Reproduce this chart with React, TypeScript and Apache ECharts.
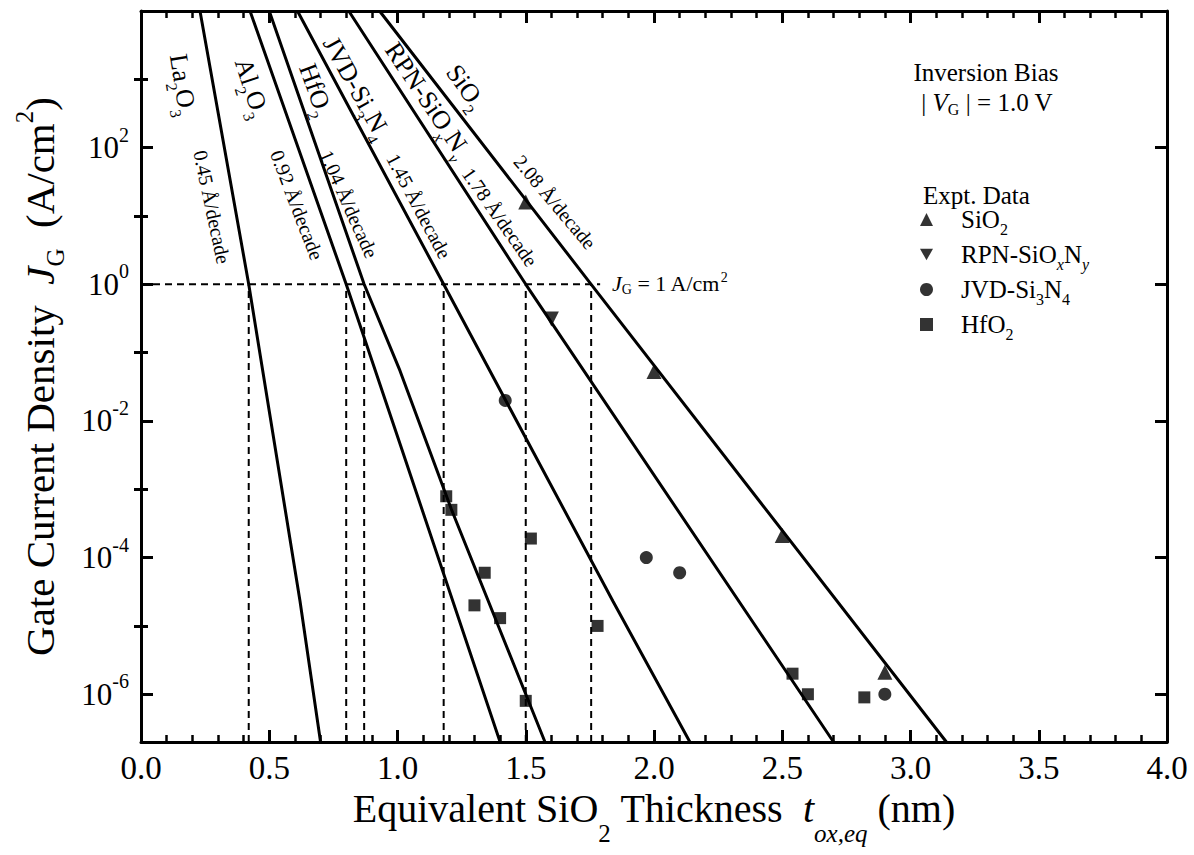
import { useEffect, useRef } from "react";
import * as echarts from "echarts";

const FONT = "'Liberation Serif', 'Times New Roman', Times, serif";

// ---------- axis ticks ----------
const xMin = 0;
const xMax = 4;
const xStep = 0.5;
const yMin = 2e-7;
const yMax = 1e4;
const yMajorTicks = [1e-6, 1e-4, 1e-2, 1, 1e2, 1e4];
const yLabelValues = [1e-6, 1e-4, 1e-2, 1, 1e2];
const yMinorTicks = [1e-5, 1e-3, 1e-1, 1e1, 1e3];

// ---------- model curves ----------
const la2o3Fit = [[0.23, 1e4], [0.42, 1], [0.62, 2.3e-5], [0.70, 2e-7]];
const al2o3Fit = [[0.425, 1e4], [0.80, 1], [1.01, 4.6e-3], [1.40, 2e-7]];
const hfo2Fit = [[0.50, 1e4], [0.87, 1], [1.01, 5.4e-2], [1.21, 5.1e-4], [1.575, 2e-7]];
const jvdFit = [[0.61, 1e4], [1.18, 1], [1.84, 2.3e-5], [2.14, 2e-7]];
const rpnFit = [[0.81, 1e4], [1.50, 1], [2.70, 2e-7]];
const sio2Fit = [[0.93, 1e4], [1.755, 1], [3.14, 2e-7]];

// x positions where each curve crosses J_G = 1 A/cm2 (dashed drop lines)
const jg1Crossings = [0.42, 0.80, 0.87, 1.18, 1.50, 1.755];
const jg1LineEnd = 1.79;

// ---------- experimental data ----------
const sio2Data = [[1.5, 16], [2.0, 0.053], [2.5, 2.1e-4], [2.9, 2.1e-6]];
const rpnData = [[1.6, 0.31]];
const jvdData = [[1.42, 0.02], [1.97, 1e-4], [2.10, 6e-5], [2.90, 1e-6]];
const hfo2Data = [
  [1.19, 7.9e-4], [1.21, 5e-4], [1.30, 2e-5], [1.34, 6e-5], [1.40, 1.3e-5],
  [1.50, 8e-7], [1.52, 1.9e-4], [1.78, 1e-5], [2.54, 2e-6], [2.60, 1e-6], [2.82, 9e-7],
];

const legendNames = ["SiO2", "RPN-SiOxNy", "JVD-Si3N4", "HfO2"];
const legendRich: Record<string, string> = {
  "SiO2": "{g| }{n|SiO}{s|2}",
  "RPN-SiOxNy": "{g| }{n|RPN-SiO}{is|x}{n|N}{is|y}",
  "JVD-Si3N4": "{g| }{n|JVD-Si}{s|3}{n|N}{s|4}",
  "HfO2": "{g| }{n|HfO}{s|2}",
};

function rich(size: number, lh: number) {
  const sub = Math.round(size * 0.62);
  const base = { fontFamily: FONT, fill: "#000", color: "#000" };
  return {
    n: { ...base, fontSize: size, lineHeight: lh, verticalAlign: "middle" },
    i: { ...base, fontSize: size, fontStyle: "italic", lineHeight: lh, verticalAlign: "middle" },
    s: { ...base, fontSize: sub, lineHeight: sub, verticalAlign: "bottom" },
    is: { ...base, fontSize: sub, fontStyle: "italic", lineHeight: sub, verticalAlign: "bottom" },
    p: { ...base, fontSize: sub, lineHeight: sub, verticalAlign: "top" },
    g: { ...base, fontSize: size, width: 23, lineHeight: lh },
  };
}

const deg = Math.PI / 180;
function annot(text: string, x: number, y: number, rotDeg: number, size: number, align = "center", lhf = 1.5) {
  return {
    type: "text",
    x,
    y,
    rotation: -rotDeg * deg,
    z: 100,
    style: {
      text,
      rich: rich(size, Math.round(size * lhf)),
      fill: "#000",
      fontSize: size,
      fontFamily: FONT,
      align,
      verticalAlign: "middle",
      textAlign: align,
      textVerticalAlign: "middle",
    },
  };
}

export default function App() {
  const ref = useRef<HTMLDivElement>(null);
  useEffect(() => {
    document.body.style.margin = "0";
    const chart = echarts.init(ref.current!, null, { renderer: "svg" });
    const axisLine = { show: true, onZero: false, lineStyle: { color: "#000", width: 3 } };
    const xCommon = {
      type: "value",
      min: xMin,
      max: xMax,
      interval: xStep,
      axisLine,
      axisTick: { show: true, inside: true, length: 12, lineStyle: { color: "#000", width: 3 } },
      minorTick: { show: true, splitNumber: 5, length: 7, lineStyle: { color: "#000", width: 2.5 } },
      splitLine: { show: false },
    };
    const yCommon = {
      type: "log",
      logBase: 10,
      min: yMin,
      max: yMax,
      splitLine: { show: false },
    };
    const lineSeries = (name: string, data: number[][]) => ({
      name,
      type: "line",
      data,
      symbol: "none",
      silent: true,
      z: 3,
      lineStyle: { color: "#000", width: 3 },
    });
    const dashed = (name: string, data: number[][]) => ({
      name,
      type: "line",
      data,
      symbol: "none",
      silent: true,
      z: 2,
      lineStyle: { color: "#000", width: 2, type: [7, 5] },
    });
    const scatter = (name: string, data: number[][], symbol: string, size: number) => ({
      name,
      type: "scatter",
      data,
      symbol,
      symbolSize: size,
      z: 5,
      itemStyle: { color: "#000" },
    });
    const legendRowTops = [207, 242, 277, 312];
    const legends = legendNames.map((name, i) => ({
      data: [name],
      orient: "vertical",
      left: 920,
      top: legendRowTops[i],
      itemWidth: 13,
      itemHeight: 13,
      padding: 0,
      selectedMode: false,
      formatter: (n: string) => legendRich[n] || n,
      textStyle: { fontFamily: FONT, fontSize: 25, color: "#000", rich: rich(25, 36) },
    }));

    chart.setOption({
      animation: false,
      backgroundColor: "#fff",
      grid: { left: 141, right: 27, top: 11, bottom: 113, containLabel: false, outerBoundsMode: "none" },
      legend: legends,
      xAxis: [
        {
          ...xCommon,
          position: "bottom",
          axisLabel: {
            formatter: (v: number) => v.toFixed(1),
            fontFamily: FONT,
            fontSize: 33,
            color: "#000",
            margin: 9,
          },
          name: "{n|Equivalent SiO}{s|2}{n| Thickness  }{i|t}{is|ox,eq}{n| (nm)}",
          nameLocation: "middle",
          nameGap: 26,
          nameTextStyle: { rich: rich(40, 74) },
        },
        { ...xCommon, position: "top", axisLabel: { show: false } },
      ],
      yAxis: [
        {
          ...yCommon,
          position: "left",
          axisLine,
          axisTick: { show: true, inside: true, length: 12, customValues: yMajorTicks, lineStyle: { color: "#000", width: 3 } },
          axisLabel: {
            customValues: yLabelValues,
            margin: 12,
            formatter: (v: number) => `{b|10}{p|${Math.round(Math.log10(v))}}`,
            rich: {
              b: { fontFamily: FONT, fontSize: 31, color: "#000", lineHeight: 46, verticalAlign: "middle" },
              p: { fontFamily: FONT, fontSize: 20, color: "#000", lineHeight: 20, verticalAlign: "top" },
            },
          },
          name: "{n|Gate Current Density  }{i|J}{s|G}{n|  (A/cm}{p|2}{n|)}",
          nameLocation: "middle",
          nameGap: 73,
          nameTextStyle: { rich: rich(41, 56) },
        },
        {
          ...yCommon,
          position: "left",
          axisLine: { show: false },
          axisTick: { show: true, inside: true, length: 7, customValues: yMinorTicks, lineStyle: { color: "#000", width: 3 } },
          axisLabel: { show: false },
        },
        {
          ...yCommon,
          position: "right",
          axisLine,
          axisTick: { show: true, inside: true, length: 12, customValues: yMajorTicks, lineStyle: { color: "#000", width: 3 } },
          axisLabel: { show: false },
        },
        {
          ...yCommon,
          position: "right",
          axisLine: { show: false },
          axisTick: { show: true, inside: true, length: 7, customValues: yMinorTicks, lineStyle: { color: "#000", width: 3 } },
          axisLabel: { show: false },
        },
      ],
      series: [
        lineSeries("La2O3 model", la2o3Fit),
        lineSeries("Al2O3 model", al2o3Fit),
        lineSeries("HfO2 model", hfo2Fit),
        lineSeries("JVD-Si3N4 model", jvdFit),
        lineSeries("RPN-SiOxNy model", rpnFit),
        lineSeries("SiO2 model", sio2Fit),
        dashed("J=1 line", [[xMin, 1], [jg1LineEnd, 1]]),
        ...jg1Crossings.map((x, i) => dashed(`drop ${i}`, [[x, yMin], [x, 1]])),
        scatter("SiO2", sio2Data, "triangle", 15),
        scatter("RPN-SiOxNy", rpnData, "path://M0,0L10,0L5,9Z", 15),
        scatter("JVD-Si3N4", jvdData, "circle", 13),
        scatter("HfO2", hfo2Data, "rect", 12),
      ],
      graphic: [
        annot("{n|La}{s|2}{n|O}{s|3}", 183, 85, 81, 26),
        annot("{n|Al}{s|2}{n|O}{s|3}", 252, 88, 72, 26),
        annot("{n|HfO}{s|2}", 316, 90, 70, 26),
        annot("{n|JVD-Si}{s|3}{n|N}{s|4}", 357, 88, 61, 26),
        annot("{n|RPN-SiO}{is|x}{n|N}{is|y}", 428, 100, 56, 26),
        annot("{n|SiO}{s|2}", 466, 87, 54, 26),
        annot("{n|0.45 Å/decade}", 212, 207, 78, 20),
        annot("{n|0.92 Å/decade}", 297, 205, 69, 20),
        annot("{n|1.04 Å/decade}", 349, 204, 66, 20),
        annot("{n|1.45 Å/decade}", 419, 206, 62, 20),
        annot("{n|1.78 Å/decade}", 500, 217, 55, 20),
        annot("{n|2.08 Å/decade}", 555, 202, 50, 20),
        annot("{n|Inversion Bias}", 986, 72, 0, 25),
        annot("{n|| }{i|V}{s|G}{n| | = 1.0 V}", 987, 102, 0, 25, "center", 1.2),
        annot("{n|Expt. Data}", 923, 195, 0, 25, "left"),
        annot("{i|J}{s|G}{n| = 1 A/cm}{p|2}", 612, 283, 0, 22, "left", 1.2),
      ],
    });
    return () => chart.dispose();
  }, []);
  return <div ref={ref} style={{ width: 1194, height: 855 }} />;
}
